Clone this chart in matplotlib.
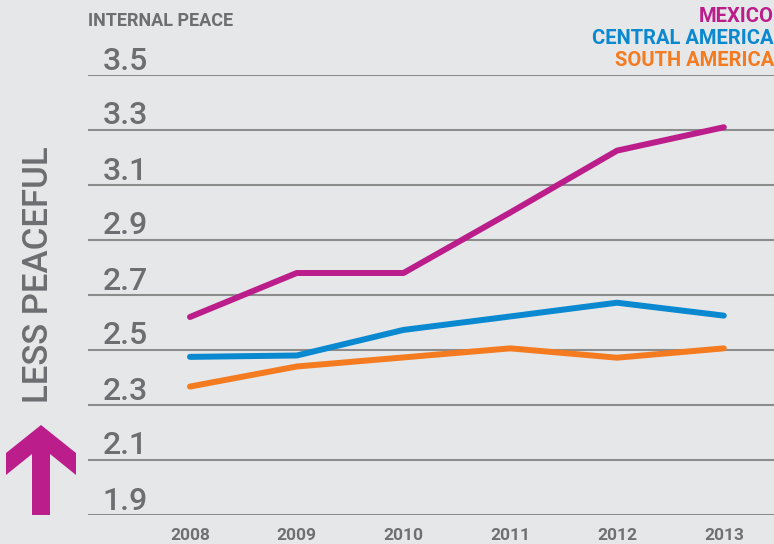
import numpy as np
import matplotlib.pyplot as plt
import matplotlib.transforms as mtransforms
from matplotlib.patches import Polygon

years = [2008, 2009, 2010, 2011, 2012, 2013]
mexico = [2.62, 2.78, 2.78, 3.00, 3.225, 3.31]
central_america = [2.475, 2.48, 2.573, 2.622, 2.672, 2.625]
south_america = [2.367, 2.44, 2.473, 2.506, 2.472, 2.506]
yticks = [1.9, 2.1, 2.3, 2.5, 2.7, 2.9, 3.1, 3.3, 3.5]

bg = '#e6e7e9'
grey = '#6d6e71'
magenta = '#bb1d8b'
blue = '#0a88d0'
orange = '#f47b20'
font = ['Roboto', 'DejaVu Sans']

fig = plt.figure(figsize=(7.74, 5.44), dpi=100, facecolor=bg)
ax = fig.add_axes([88/774, 1 - 515/544, 1 - 88/774, (515 - 75)/544])
ax.set_facecolor(bg)

ax.set_ylim(1.9, 3.5)
ax.set_xlim(2007.045, 2013.47)

# gridlines
for v in yticks:
    ax.axhline(v, color='#8c8c8c', lw=1.5, zorder=1)

for s in ax.spines.values():
    s.set_visible(False)
ax.set_yticks([])
ax.set_xticks(years)
ax.set_xticklabels([str(y) for y in years], family=font,
                   fontsize=12.5, fontweight='bold', color='#707070')
ax.tick_params(axis='x', length=0, pad=9)

# y labels sitting on top of gridlines
blend = mtransforms.blended_transform_factory(ax.transAxes, ax.transData)
for v in yticks:
    ax.text(0.021, v + 0.02, f"{v:.1f}", transform=blend, va='baseline', ha='left',
            family=font, fontsize=23, fontweight='medium', color=grey)

# series
ax.plot(years, mexico, color=magenta, lw=4.3, solid_capstyle='round', zorder=3)
ax.plot(years, central_america, color=blue, lw=4.3, solid_capstyle='round', zorder=3)
ax.plot(years, south_america, color=orange, lw=4.3, solid_capstyle='round', zorder=3)

# titles / legend
fig.text(88/774, 1 - 21/544, 'INTERNAL PEACE', family=font, fontsize=13,
         fontweight='bold', color=grey, va='center', ha='left')
fig.text(1.0, 1 - 17/544, 'MEXICO', family=font, fontsize=14.5, color=magenta,
         fontweight='bold', va='center', ha='right')
fig.text(1.0, 1 - 38/544, 'CENTRAL AMERICA', family=font, fontsize=14.5, color=blue,
         fontweight='bold', va='center', ha='right')
fig.text(1.0, 1 - 60/544, 'SOUTH AMERICA', family=font, fontsize=14.5, color=orange,
         fontweight='bold', va='center', ha='right')

fig.text(39/774, 1 - 275/544, 'LESS PEACEFUL', family=font, fontsize=25, color=grey,
         fontweight='medium', rotation=90, va='center', ha='center')

# arrow in pixel coords
pts = [(32, 515), (50, 515), (50, 454), (76, 475), (76, 453), (41, 425),
       (6, 453), (6, 475), (32, 454)]
arrow = Polygon([(x/774, 1 - y/544) for x, y in pts], closed=True,
                facecolor=magenta, edgecolor='none', transform=fig.transFigure)
fig.patches.append(arrow)

fig.savefig('out.png', dpi=100, facecolor=bg)
